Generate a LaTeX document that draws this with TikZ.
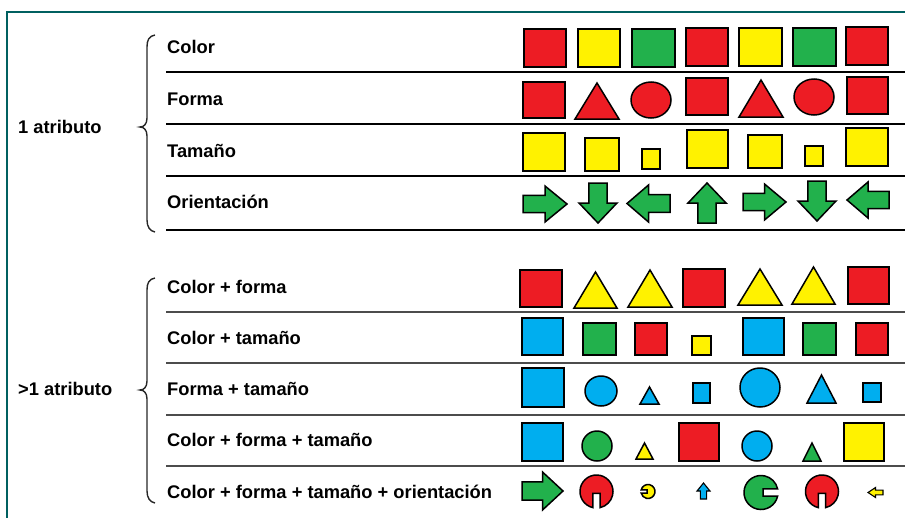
\documentclass[tikz,border=0pt]{standalone}
\usepackage{fontspec}
\setmainfont{Liberation Sans}
\definecolor{cred}{RGB}{237,28,36}
\definecolor{cyel}{RGB}{255,242,0}
\definecolor{cgrn}{RGB}{34,177,76}
\definecolor{cblu}{RGB}{0,174,239}
\definecolor{frame}{RGB}{0,96,96}
\newcommand\sqr[5]{\draw[shp,fill=#5] (#1,#2) rectangle (#3,#4);}
\newcommand\tri[5]{\draw[shp,fill=#5] (#1,#4) -- ({(#1+#3)/2},#2) -- (#3,#4) -- cycle;}
\newcommand\elp[5]{\draw[shp,fill=#5] (#1,#2) ellipse [x radius=#3, y radius=#4];}
\newcommand\arw[6]{\draw[shp,fill=#6,shift={(#1,#2)},rotate=#5] ({-#3/2},{-0.24*#4}) -- (0,{-0.24*#4}) -- (0,{-#4/2}) -- ({#3/2},0) -- (0,{#4/2}) -- (0,{0.24*#4}) -- ({-#3/2},{0.24*#4}) -- cycle;}
\newcommand\pac[5]{\draw[shp,fill=#5,shift={(#1,#2)},rotate=#4] ({0.12*#3},{0.22*#3}) -- ({0.9755*#3},{0.22*#3}) arc[start angle=12.7,end angle=347.3,radius=#3] -- ({0.12*#3},{-0.22*#3}) -- cycle;}
\begin{document}
\begin{tikzpicture}[x=1pt,y=-1pt,
  shp/.style={draw=black,line width=1.5pt,line join=miter},
  thin shp/.style={line width=1.1pt},
  lbl/.style={anchor=base west,inner sep=0pt,font=\bfseries\fontsize{18.3}{21}\selectfont},
  sep/.style={line width=1.2pt,draw=black},
  sepg/.style={line width=1.2pt,draw=black!70},
  brace/.style={line width=1.4pt,draw=black!85}]
\useasboundingbox (0,0) rectangle (905,517);
\clip (0,0) rectangle (905,517);
\draw[frame,line width=2.4pt] (7,12) rectangle (940,550);

% group labels
\node[lbl] (g1) at (18,133) {1 atributo};
\node[lbl] (g2) at (18,395) {>1 atributo};

% braces
\draw[brace] (155,35) .. controls (149,36) and (147,40) .. (147,47) -- (147,118)
  .. controls (147,124) and (144,127) .. (140,127)
  .. controls (144,127) and (147,130) .. (147,136) -- (147,220)
  .. controls (147,227) and (150,231) .. (155,232);
\draw[brace] (155,278) .. controls (149,279) and (147,283) .. (147,290) -- (147,381)
  .. controls (147,387) and (144,390) .. (140,390)
  .. controls (144,390) and (147,393) .. (147,399) -- (147,491)
  .. controls (147,498) and (150,502) .. (155,503);

% row labels
\node[lbl] (r1) at (167,53) {Color};
\node[lbl] (r2) at (167,105) {Forma};
\node[lbl] (r3) at (167,157) {Tamaño};
\node[lbl] (r4) at (167,208) {Orientación};
\node[lbl] (r5) at (167,293) {Color + forma};
\node[lbl] (r6) at (167,344) {Color + tamaño};
\node[lbl] (r7) at (167,395) {Forma + tamaño};
\node[lbl] (r8) at (167,446) {Color + forma + tamaño};
\node[lbl] (r9) at (167,498) {Color + forma + tamaño + orientación};

% separators
\foreach \yy in {72,124,176,230} \draw[sep] (166,\yy) -- (905,\yy);
\foreach \yy in {312,363,415,466} \draw[sepg] (166,\yy) -- (905,\yy);

% Row: Color
\sqr{524}{29}{566}{67}{cred}
\sqr{578}{29}{620}{67}{cyel}
\sqr{632}{29}{675}{67}{cgrn}
\sqr{686}{28}{728}{66}{cred}
\sqr{739}{28}{782}{66}{cyel}
\sqr{793}{28}{836}{66}{cgrn}
\sqr{846}{27}{888}{65}{cred}

% Row: Forma
\sqr{523}{82}{565}{118}{cred}
\tri{575}{83}{619}{119}{cred}
\elp{651}{100}{20}{18}{cred}
\sqr{686}{78}{728}{115}{cred}
\tri{739}{80}{783}{117}{cred}
\elp{814}{97}{20}{18}{cred}
\sqr{847}{77}{888}{114}{cred}

% Row: Tamano
\sqr{523}{133}{565}{171}{cyel}
\sqr{585}{138}{619}{171}{cyel}
\sqr{642}{149}{660}{169}{cyel}
\sqr{687}{130}{728}{168}{cyel}
\sqr{748}{135}{782}{168}{cyel}
\sqr{805}{146}{823}{166}{cyel}
\sqr{846}{128}{888}{166}{cyel}

% Row: Orientacion
\arw{545}{204}{44}{36}{0}{cgrn}
\arw{598}{203}{40}{38}{270}{cgrn}
\arw{648.5}{203.5}{43}{37}{180}{cgrn}
\arw{707}{203}{40}{38}{90}{cgrn}
\arw{764.5}{202}{43}{36}{0}{cgrn}
\arw{817}{201}{40}{38}{270}{cgrn}
\arw{868}{200}{42}{36}{180}{cgrn}

% Row: Color + forma
\sqr{520}{270}{562}{307}{cred}
\tri{574}{272}{617}{308}{cyel}
\tri{628}{270}{672}{307}{cyel}
\sqr{683}{269}{725}{307}{cred}
\tri{738}{269}{782}{305}{cyel}
\tri{792}{267}{835}{304}{cyel}
\sqr{848}{267}{889}{304}{cred}

% Row: Color + tamano
\sqr{522}{318}{563}{355}{cblu}
\sqr{583}{323}{616}{355}{cgrn}
\sqr{635}{323}{667}{355}{cred}
\sqr{692}{336}{711}{355}{cyel}
\sqr{743}{318}{784}{355}{cblu}
\sqr{803}{323}{836}{355}{cgrn}
\sqr{856}{323}{888}{355}{cred}

% Row: Forma + tamano
\sqr{522}{368}{564}{407}{cblu}
\elp{601}{391}{16}{15}{cblu}
\tri{640}{387}{659}{404}{cblu}
\sqr{693}{383}{710}{403}{cblu}
\elp{760}{387.5}{20}{19.5}{cblu}
\tri{807}{375}{836}{403}{cblu}
\sqr{863}{383}{881}{402}{cblu}

% Row: Color + forma + tamano
\sqr{522}{423}{563}{461}{cblu}
\elp{597}{446}{15}{15}{cgrn}
\tri{636}{443}{653}{459}{cyel}
\sqr{679}{423}{719}{461}{cred}
\elp{757}{446}{15}{15}{cblu}
\tri{803}{443}{821}{461}{cgrn}
\sqr{844}{423}{884}{461}{cyel}

% Row: Color + forma + tamano + orientacion
\arw{542.5}{491}{41}{38}{0}{cgrn}
\pac{596.5}{491.5}{16.5}{270}{cred}
\pac{648}{491.5}{7}{180}{cyel}
\begin{scope}[shp/.append style={thin shp}]
\arw{703.5}{491}{16}{13}{90}{cblu}
\arw{875.5}{492.5}{15}{10}{180}{cyel}
\end{scope}
\pac{761}{492.5}{17}{0}{cgrn}
\pac{822}{491.5}{16.5}{270}{cred}
\end{tikzpicture}
\end{document}
